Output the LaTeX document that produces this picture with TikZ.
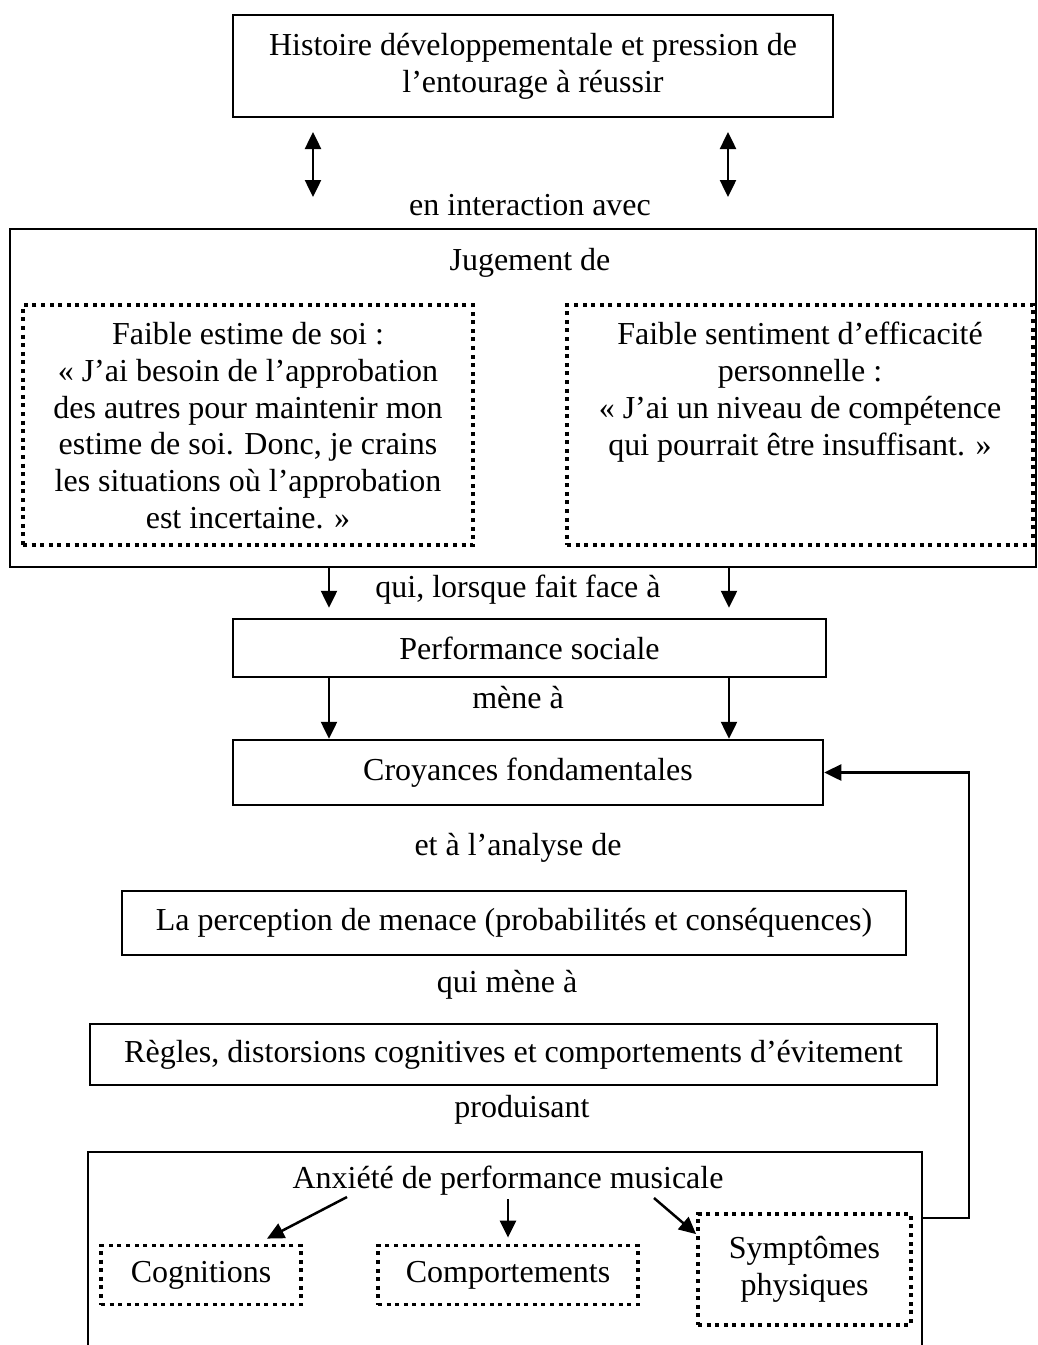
\documentclass[tikz,border=0pt]{standalone}
\usepackage{fontspec}
\setmainfont{Liberation Serif}
\usetikzlibrary{calc,arrows.meta,positioning}

\begin{document}
\begin{tikzpicture}[x=1pt,y=-1pt,font=\fontsize{32}{36.8}\selectfont,
  box/.style={draw,line width=2.5pt,inner sep=0pt,align=center},
  dotbox/.style={draw,line width=3.8pt,dash pattern=on 4pt off 4.6pt,inner sep=0pt,align=center},
  txt/.style={inner sep=0pt,align=center},
  arr/.style={line width=2.5pt,-{Triangle[length=17pt,width=16pt]}},
  darr/.style={line width=2.5pt,{Triangle[length=17pt,width=16pt]}-{Triangle[length=17pt,width=16pt]}}]
\useasboundingbox (0,0) rectangle (1037,1345);
% top of the chain
\node[box,minimum width=600pt,minimum height=102pt] (hist) at (533,66)
  {Histoire développementale et pression de\\l’entourage à réussir};
\coordinate (dl) at (313,132);
\coordinate (dr) at (728,132);
\draw[darr] (dl) -- ++(0,65);
\draw[darr] (dr) -- ++(0,65);
\node[txt] (inter) at (530,205) {en interaction avec};

% jugement
\node[box,minimum width=1026pt,minimum height=338pt] (jug) at (523,398) {};
\node[txt] (jugtxt) at (530,263) {Jugement de};
\node[dotbox,minimum width=450pt,minimum height=240pt] (estime) at (248,425) {};
\node[txt,anchor=north] (estxt) at ([yshift=-19pt]estime.north)
  {Faible estime de soi :\\« J’ai besoin de l’approbation\\des autres pour maintenir mon\\estime de soi. Donc, je crains\\les situations où l’approbation\\est incertaine. »};
\node[dotbox,minimum width=466pt,minimum height=240pt] (effic) at (800,425) {};
\node[txt,anchor=north] (eftxt) at ([yshift=-19pt]effic.north)
  {Faible sentiment d’efficacité\\personnelle :\\« J’ai un niveau de compétence\\qui pourrait être insuffisant. »};

% performance and beliefs
\node[box,minimum width=593pt,minimum height=58pt] (perf) at (529.5,648) {Performance sociale};
\node[txt] (qui) at (518,590) {qui, lorsque fait face à};
\coordinate (xl) at (329,0);
\coordinate (xr) at (729,0);
\draw[arr,shorten >=10pt] (jug.south -| xl) -- (perf.north -| xl);
\draw[arr,shorten >=10pt] (jug.south -| xr) -- (perf.north -| xr);
\node[box,minimum width=590pt,minimum height=65pt] (croy) at (528,772.5) {Croyances fondamentales};
\node[txt] (mene) at (518,698) {mène à};
\draw[arr] (perf.south -| xl) -- (croy.north -| xl);
\draw[arr] (perf.south -| xr) -- (croy.north -| xr);
\node[txt] (analyse) at (518,848) {et à l’analyse de};
\node[box,minimum width=784pt,minimum height=64pt] (menace) at (514,923)
  {La perception de menace (probabilités et conséquences)};
\node[txt] (quimene) at (507,985) {qui mène à};
\node[box,minimum width=847pt,minimum height=61pt] (regles) at (513.5,1054.5)
  {Règles, distorsions cognitives et comportements d’évitement};
\node[txt] (prod) at (522,1110) {produisant};

% anxiety, open at the bottom
\draw[line width=2.5pt] (88,1345) -- (88,1152) -- (922,1152) -- (922,1345);
\node[txt] (anx) at (508,1181) {Anxiété de performance musicale};
\node[dotbox,minimum width=200pt,minimum height=59pt] (cog) at (201,1275) {Cognitions};
\node[dotbox,minimum width=260pt,minimum height=59pt] (comp) at (508,1275) {Comportements};
\node[dotbox,minimum width=213pt,minimum height=111pt] (symp) at (804.5,1269.5) {Symptômes\\physiques};
\coordinate (a1) at (347,1197);
\coordinate (a2) at (508,1199);
\coordinate (a3) at (654,1198);
\draw[arr] (a1) -- ([xshift=66pt,yshift=5pt]cog.north);
\draw[arr] (a2) -- ([yshift=6pt]comp.north);
\draw[arr] (a3) -- ([yshift=-22pt]symp.north west);

% feedback loop
\coordinate (fb) at (969,1218);
\draw[arr] (fb -| 922,0) -- (fb) -- (fb |- croy.east) -- (croy.east);
\end{tikzpicture}
\end{document}
